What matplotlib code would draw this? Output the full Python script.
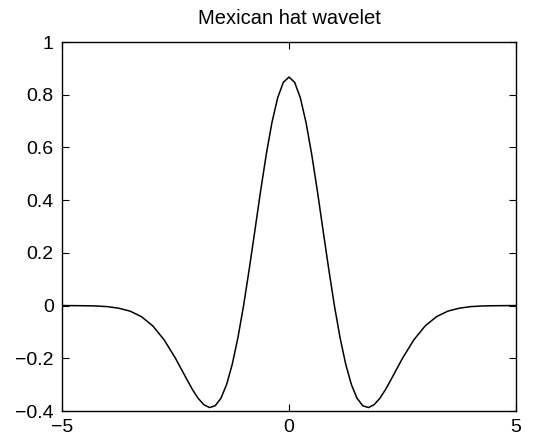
import matplotlib
matplotlib.use("Agg")
import matplotlib.pyplot as plt

plt.rc('font', family=['Liberation Sans', 'DejaVu Sans'], size=14)

# points
x_vals = [-5.0, -4.75, -4.5, -4.25, -4.0, -3.75, -3.5, -3.25, -3.0, -2.75, -2.5,
          -2.25, -2.125, -2.0, -1.875, -1.75, -1.625, -1.5, -1.375, -1.25, -1.125,
          -1.0, -0.875, -0.75, -0.625, -0.5, -0.375, -0.25, -0.125, 0.0,
          0.125, 0.25, 0.375, 0.5, 0.625, 0.75, 0.875, 1.0, 1.125, 1.25, 1.375,
          1.5, 1.625, 1.75, 1.875, 2.0, 2.125, 2.25, 2.5, 2.75, 3.0, 3.25, 3.5,
          3.75, 4.0, 4.25, 4.5, 4.75, 5.0]
y_vals = [0.0, -0.0002, -0.0006, -0.0015, -0.004, -0.010, -0.021, -0.042, -0.077,
          -0.130, -0.200, -0.280, -0.319, -0.352, -0.376, -0.387, -0.380, -0.352,
          -0.300, -0.223, -0.122, 0.0, 0.139, 0.286, 0.435, 0.574, 0.695, 0.788,
          0.847, 0.867,
          0.847, 0.788, 0.695, 0.574, 0.435, 0.286, 0.139, 0.0, -0.122, -0.223,
          -0.300, -0.352, -0.380, -0.387, -0.376, -0.352, -0.319, -0.280, -0.200,
          -0.130, -0.077, -0.042, -0.021, -0.010, -0.004, -0.0015, -0.0006,
          -0.0002, 0.0]
x_ticks = [-5, 0, 5]
x_labels = ['\u22125', '0', '5']
y_ticks = [-0.4, -0.2, 0, 0.2, 0.4, 0.6, 0.8, 1]
y_labels = ['\u22120.4', '\u22120.2', '0', '0.2', '0.4', '0.6', '0.8', '1']

fig = plt.figure(figsize=(5.38, 4.4), dpi=100)
ax = fig.add_axes([0.1152, 0.0659, 0.8439, 0.8386])

ax.plot(x_vals, y_vals, color='black', linewidth=1.1)

ax.set_xlim(-5, 5)
ax.set_ylim(-0.4, 1)
ax.set_xticks(x_ticks)
ax.set_xticklabels(x_labels)
ax.set_yticks(y_ticks)
ax.set_yticklabels(y_labels)
ax.tick_params(direction='in', top=True, right=True, length=5, width=0.8)
ax.tick_params(axis='x', pad=6)
ax.tick_params(axis='y', pad=6)
for s in ax.spines.values():
    s.set_linewidth(1.0)
ax.set_title("Mexican hat wavelet", fontsize=14.5, pad=13)

plt.savefig("out.png", dpi=100)
